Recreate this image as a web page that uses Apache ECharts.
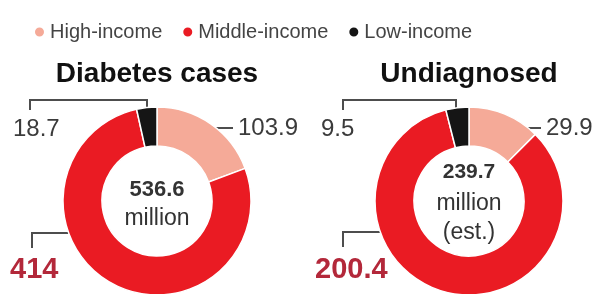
<!DOCTYPE html>
<html><head><meta charset="utf-8">
<script src="https://cdn.jsdelivr.net/npm/echarts@6/dist/echarts.min.js"></script>
<style>html,body{margin:0;padding:0;background:#fff}#c{width:593px;height:294px}</style>
</head><body><div id="c"></div>
<script>
// ---- data ----
const categories = ['High-income', 'Middle-income', 'Low-income'];
const diabetesCases = [103.9, 414, 18.7];
const undiagnosed = [29.9, 200.4, 9.5];
const chartTitles = ['Diabetes cases', 'Undiagnosed'];
const totals = ['536.6', '239.7'];
const totalUnits = [['million'], ['million', '(est.)']];

// ---- styles / layout ----
const COLORS = ['#f5aa98', '#ea1b23', '#151515'];
const SANS = "'Liberation Sans',Arial,sans-serif";
const CY = 201, R_IN = 55, R_OUT = 94;
const CX = [157, 469];

// leader-line / label annotation geometry, relative to each pie centre
const ANNOT = [
  [ {pts: [[55, -73], [76, -73]], lx: 81, ly: -73},
    {pts: [[-87, 32], [-125, 32], [-125, 47]], lx: -147, ly: 69},
    {pts: [[-10, -93], [-10, -101], [-127, -101], [-127, -91]], lx: -144, ly: -72} ],
  [ {pts: [[57, -73], [72, -73]], lx: 77, ly: -73},
    {pts: [[-89, 31], [-126, 31], [-126, 46]], lx: -154, ly: 69},
    {pts: [[-13, -93], [-13, -101], [-126, -101], [-126, -91]], lx: -148, ly: -72} ]
];

function pieSeries(i, values) {
  const cx = CX[i];
  return {
    type: 'pie',
    center: [cx, CY],
    radius: [R_IN, R_OUT],
    startAngle: 90,
    clockwise: true,
    avoidLabelOverlap: false,
    silent: true,
    itemStyle: {borderColor: '#fff', borderWidth: 1.5},
    label: {show: true, position: 'outside', formatter: '{c}', fontFamily: SANS, fontSize: 24, color: '#3b3b3b'},
    labelLine: {show: true, length: 5, length2: 5, lineStyle: {color: '#4d4d4d', width: 2}},
    labelLayout: function (p) {
      const a = ANNOT[i][p.dataIndex];
      return {
        x: cx + a.lx, y: CY + a.ly, align: 'left', verticalAlign: 'middle',
        labelLinePoints: a.pts.map(q => [cx + q[0], CY + q[1]])
      };
    },
    data: categories.map((n, k) => ({
      name: n, value: values[k], itemStyle: {color: COLORS[k]},
      label: k === 1 ? {fontWeight: 'bold', fontSize: 29, color: '#b3283a'} : {}
    }))
  };
}

const centerTexts = [];
const centerSpec = [
  [{y: 190, size: 22, bold: true}, {y: 219, size: 23}],
  [{y: 172, size: 21, bold: true}, {y: 204, size: 23}, {y: 233, size: 23}]
];
[0, 1].forEach(i => {
  const lines = [totals[i]].concat(totalUnits[i]);
  lines.forEach((t, j) => {
    const s = centerSpec[i][j];
    centerTexts.push({
      type: 'text', x: CX[i], y: s.y, silent: true,
      style: {text: t, align: 'center', verticalAlign: 'middle',
        font: (s.bold ? 'bold ' : '') + s.size + 'px ' + SANS, fill: '#333'}
    });
  });
});

const chart = echarts.init(document.getElementById('c'), null, {renderer: 'canvas'});
chart.setOption({
  backgroundColor: '#fff',
  animation: false,
  title: chartTitles.map((t, i) => ({
    text: t, left: CX[i], top: 60, textAlign: 'center', padding: 0,
    textStyle: {fontFamily: SANS, fontWeight: 'bold', fontSize: 28, color: '#111'}
  })),
  legend: {
    data: categories, left: 33, top: 21, padding: 0, icon: 'circle', itemWidth: 11, itemHeight: 11,
    itemGap: 19, selectedMode: false,
    textStyle: {fontFamily: SANS, fontSize: 20, color: '#444', lineHeight: 22}
  },
  graphic: centerTexts,
  series: [pieSeries(0, diabetesCases), pieSeries(1, undiagnosed)]
});
</script></body></html>
